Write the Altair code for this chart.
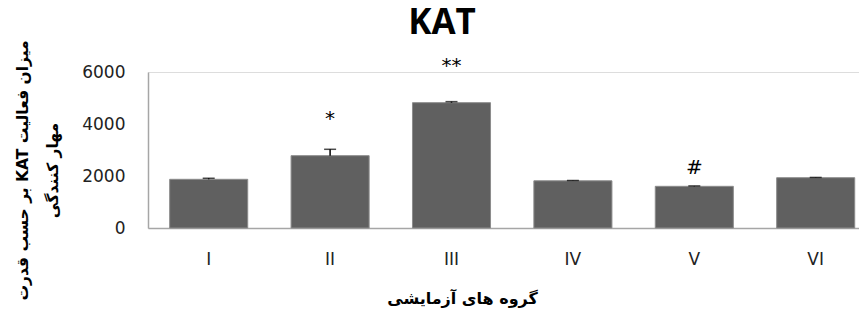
import altair as alt
import pandas as pd

chart_title = "KAT"
groups = ["I", "II", "III", "IV", "V", "VI"]
values = [1873, 2782, 4820, 1815, 1603, 1935]
errors = [40, 245, 40, 12, 15, 10]
marks = ["", "*", "**", "", "#", ""]
mark_y = [0, 4200, 6250, 0, 2300, 0]

df = pd.DataFrame({"group": groups, "value": values, "err": errors,
                   "mark": marks, "mark_y": mark_y})
df["top"] = df["value"] + df["err"]

x = alt.X("group:N", sort=groups,
          scale=alt.Scale(range=[0, 728.4], paddingInner=0.357, paddingOuter=0.1785),
          axis=alt.Axis(title="گروه های آزمایشی", labelAngle=0, ticks=False,
                        domainColor="#a6a6a6", domainWidth=1.5,
                        labelFont="DejaVu Sans", labelFontSize=17, labelColor="#222222",
                        labelPadding=23, labelBaseline="top",
                        titleFont="DejaVu Sans", titleFontSize=16, titleFontWeight="bold",
                        titleColor="#000000", titleX=314, titleY=70,
                        titleAlign="center", titleBaseline="middle"))

y_title = ["\u202bمیزان فعالیت KAT بر حسب قدرت\u202c", "\u202bمهار کنندگی\u202c"]

y = alt.Y("value:Q", scale=alt.Scale(domain=[0, 6000], nice=False),
          axis=alt.Axis(title=y_title, values=[0, 2000, 4000, 6000], format="d",
                        grid=False, ticks=False, domainColor="#a6a6a6", domainWidth=1.5,
                        labelFont="DejaVu Sans", labelFontSize=17, labelColor="#222222",
                        labelPadding=23,
                        titleFont="DejaVu Sans", titleFontSize=15.5, titleFontWeight="bold",
                        titleColor="#000000", titleX=-126, titleY=98, titleAngle=-90,
                        titleAlign="center", titleBaseline="middle", titleLineHeight=30))

base = alt.Chart(df)

bars = base.mark_bar(color="#606060", stroke="#8c8c8c", strokeWidth=1).encode(x=x, y=y)
rules = base.mark_rule(color="#000000", strokeWidth=1.5).encode(
    x=alt.X("group:N", sort=groups), y="value:Q", y2="top:Q")
caps = base.mark_tick(color="#000000", thickness=1.5, size=12, orient="horizontal").encode(
    x=alt.X("group:N", sort=groups), y="top:Q")
texts = base.transform_filter(alt.datum.mark != "").mark_text(
    font="DejaVu Sans", fontSize=20, color="#000000", baseline="middle").encode(
    x=alt.X("group:N", sort=groups), y=alt.Y("mark_y:Q"), text="mark:N")

title_layer = alt.Chart(pd.DataFrame({"t": [chart_title]})).mark_text(
    font="Open Sans", fontSize=35, fontWeight="bold", color="#000000",
    align="center", baseline="alphabetic").encode(
    x=alt.value(294), y=alt.value(-38), text="t:N")

chart = alt.layer(bars, rules, caps, texts, title_layer).properties(
    width=711, height=156,
    autosize=alt.AutoSizeParams(type="none"),
    padding={"left": 140, "top": 64, "right": 0, "bottom": 80},
).configure_view(fill="#e6e6e6", stroke=None).configure(background="#ffffff")

chart.save("out.html", embed_options={"renderer": "svg", "actions": False})
